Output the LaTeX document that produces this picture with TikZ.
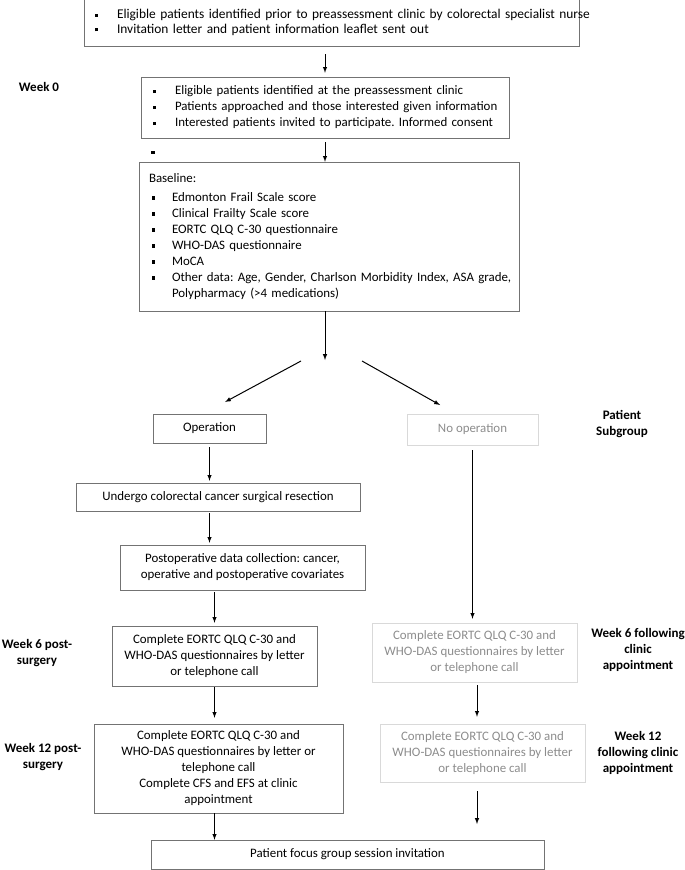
\documentclass[tikz,border=0pt]{standalone}
\usepackage{fontspec}
\setmainfont{Carlito}
\usetikzlibrary{positioning,shapes,arrows}
\frenchspacing

\newcommand{\bul}{\rule[0.3ex]{3.4pt}{3.4pt}}
\newcommand{\itm}{\makebox[22pt][l]{\bul}}

\begin{document}
\begin{tikzpicture}[x=1pt,y=-1pt,>=latex,
flowbox/.style={rectangle, draw=black!55, font=\fontsize{12.9}{16}\selectfont, align=center, inner sep=2pt},
greybox/.style={flowbox, draw=black!15, text=black!45},
listbox/.style={flowbox, align=left, inner xsep=0pt},
sidelabel/.style={font=\fontsize{13}{16}\selectfont\bfseries, align=center},
flow/.style={draw=black, line width=1pt}
]
\useasboundingbox (0,0) rectangle (685,870);

\node[listbox, minimum width=495, minimum height=47, text width=495, font=\fontsize{13.4}{14.5}\selectfont] (recruit) at (331.5,22.5)
  {\hspace*{11pt}\itm\mbox{Eligible patients identified prior to preassessment clinic by colorectal specialist nurse}\\
   \hspace*{11pt}\itm Invitation letter and patient information leaflet sent out};

\node[listbox, minimum width=368, minimum height=61, text width=368] (preassess) at (325,107.5)
  {\hspace*{12pt}\itm Eligible patients identified at the preassessment clinic\\
   \hspace*{12pt}\itm Patients approached and those interested given information\\
   \hspace*{12pt}\itm Interested patients invited to participate. Informed consent};
\node (week0) [sidelabel] at (39,87) {Week 0};

\node (stray) at (153,153) {\bul};

\node[listbox, minimum width=380, minimum height=149, text width=380] (baseline) at (329,236.5)
  {\hspace*{10pt}Baseline:\\[3pt]
   \hspace*{13pt}\makebox[20pt][l]{\bul}Edmonton Frail Scale score\\
   \hspace*{13pt}\makebox[20pt][l]{\bul}Clinical Frailty Scale score\\
   \hspace*{13pt}\makebox[20pt][l]{\bul}EORTC QLQ C-30 questionnaire\\
   \hspace*{13pt}\makebox[20pt][l]{\bul}WHO-DAS questionnaire\\
   \hspace*{13pt}\makebox[20pt][l]{\bul}MoCA\\
   \hspace*{13pt}\makebox[20pt][l]{\bul}\mbox{Other data: Age, Gender, Charlson Morbidity Index, ASA grade,}\\
   \hspace*{33pt}Polypharmacy (>4 medications)};

\coordinate (split) at (325,360);
\coordinate (splitL) at (301,361);
\coordinate (splitR) at (362,361);
\coordinate (opTip) at (225,402);
\coordinate (noopTip) at (440,405);

\node[flowbox, minimum width=113, minimum height=29] (op) at (209.5,428.5) {Operation};
\node[greybox, minimum width=131, minimum height=31] (noop) at (472.5,429.5) {No operation};
\node (subgroup) [sidelabel] at (622,424) {Patient\\Subgroup};

\node[flowbox, minimum width=284, minimum height=28] (resect) at (218,497) {Undergo colorectal cancer surgical resection};
\node[flowbox, minimum width=245, minimum height=45] (postop) at (242.5,567.5)
  {Postoperative data collection: cancer,\\operative and postoperative covariates};

\node[flowbox, minimum width=205, minimum height=60] (wksix) at (214.5,656)
  {Complete EORTC QLQ C-30 and\\WHO-DAS questionnaires by letter\\or telephone call};
\node (wksixlab) [sidelabel] at (37,653) {Week 6 post-\\surgery};
\node[greybox, minimum width=205, minimum height=59] (nowksix) at (474.5,652.5)
  {Complete EORTC QLQ C-30 and\\WHO-DAS questionnaires by letter\\or telephone call};
\node (nowksixlab) [sidelabel] at (638,650) {Week 6 following\\clinic\\appointment};

\node[flowbox, minimum width=249, minimum height=89] (wktwelve) at (218.5,768.5)
  {Complete EORTC QLQ C-30 and\\WHO-DAS questionnaires by letter or\\telephone call\\Complete CFS and EFS at clinic\\appointment};
\node (wktwelvelab) [sidelabel] at (43,757) {Week 12 post-\\surgery};
\node[greybox, minimum width=205, minimum height=58] (nowktwelve) at (482.5,753)
  {Complete EORTC QLQ C-30 and\\WHO-DAS questionnaires by letter\\or telephone call};
\node (nowktwelvelab) [sidelabel] at (638,753) {Week 12\\following clinic\\appointment};
\coordinate (dangle) at (477,824);

\node[flowbox, minimum width=393, minimum height=29] (focus) at (347.5,854.5) {Patient focus group session invitation};

%Recruitment and baseline
\draw[flow,->, shorten <=8pt, shorten >=4pt] (recruit.south -| preassess) -- (preassess.north);
\draw[flow,->, shorten <=4pt] (preassess.south) -- (preassess.south |- baseline.north);
\draw[flow,->] (baseline.south -| split) -- (split);

%Split
\draw[flow,->] (splitL) -- (opTip);
\draw[flow,->] (splitR) -- (noopTip);

%Operation branch
\draw[flow,->, shorten <=4pt, shorten >=2pt] (op.south) -- (op.south |- resect.north);
\draw[flow,->, shorten <=2pt, shorten >=2pt] (resect.south -| op) -- (op |- postop.north);
\draw[flow,->, shorten <=2pt, shorten >=3pt] (postop.south -| wksix) -- (wksix.north);
\draw[flow,->, shorten <=1pt, shorten >=6pt] (wksix.south) -- (wksix.south |- wktwelve.north);
\draw[flow,->] (wktwelve.south -| wksix) -- (wksix |- focus.north);

%No operation branch
\draw[flow,->, shorten <=5pt, shorten >=4pt] (noop.south) -- (noop.south |- nowksix.north);
\draw[flow,->, shorten <=3pt, shorten >=7pt] (nowksix.south -| dangle) -- (dangle |- nowktwelve.north);
\draw[flow,->, shorten <=9pt] (nowktwelve.south -| dangle) -- (dangle);
\end{tikzpicture}
\end{document}
